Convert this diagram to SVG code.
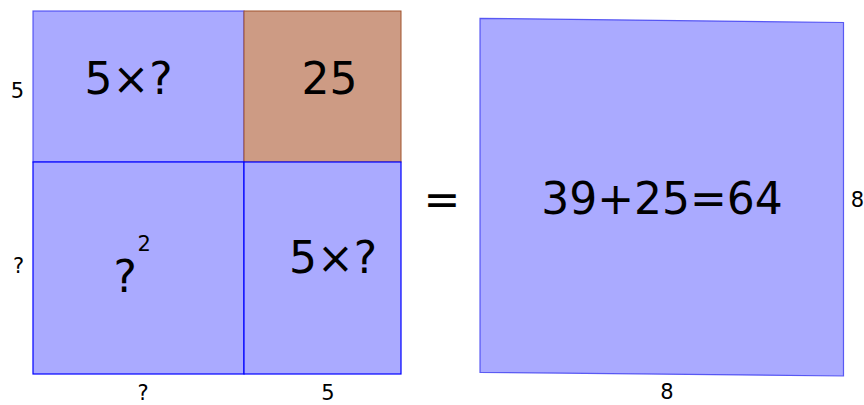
<svg xmlns="http://www.w3.org/2000/svg" width="864" height="405" viewBox="0 0 864 405">
  <style>
    .blue { fill: #aaaaff; stroke: #0000ff; stroke-width: 1.2; }
    .soft { stroke: #3a3af0; stroke-opacity: 0.8; }
    .brown { fill: #cd9b84; stroke: #a0522d; stroke-width: 1; }
    .big { font-family: "DejaVu Sans", sans-serif; font-size: 44px; fill: #000; text-anchor: middle; }
    .small { font-family: "DejaVu Sans", sans-serif; font-size: 21px; fill: #000; text-anchor: middle; }
  </style>
  <rect width="864" height="405" fill="#ffffff"/>
  <g id="top-left">
    <rect class="blue soft" x="33" y="11" width="211" height="151"/>
    <text class="big" x="128.5" y="94">5×?</text>
  </g>
  <g id="top-right">
    <rect class="brown" x="244" y="11" width="157" height="151"/>
    <text class="big" x="329.5" y="94">25</text>
  </g>
  <g id="bottom-left">
    <rect class="blue" x="33" y="162" width="211" height="212"/>
    <text class="big" x="113.5" y="291.5" style="text-anchor:start">?</text>
    <text class="big" x="137.5" y="251" style="text-anchor:start;font-size:21px">2</text>
  </g>
  <g id="bottom-right">
    <rect class="blue" x="244" y="162" width="157" height="212"/>
    <text class="big" x="333" y="273">5×?</text>
  </g>
  <g id="equals">
    <text class="big" x="442" y="215">=</text>
  </g>
  <g id="result">
    <polygon class="blue soft" points="480,18.3 843.5,22.5 843.5,376 480,372.3"/>
    <text class="big" x="662" y="214">39+25=64</text>
  </g>
  <g id="labels">
    <text class="small" x="17.5" y="98">5</text>
    <text class="small" x="18.5" y="273">?</text>
    <text class="small" x="143" y="400">?</text>
    <text class="small" x="328" y="400">5</text>
    <text class="small" x="857.5" y="206.5">8</text>
    <text class="small" x="667" y="399">8</text>
  </g>
  <g id="connectors"></g>
</svg>
